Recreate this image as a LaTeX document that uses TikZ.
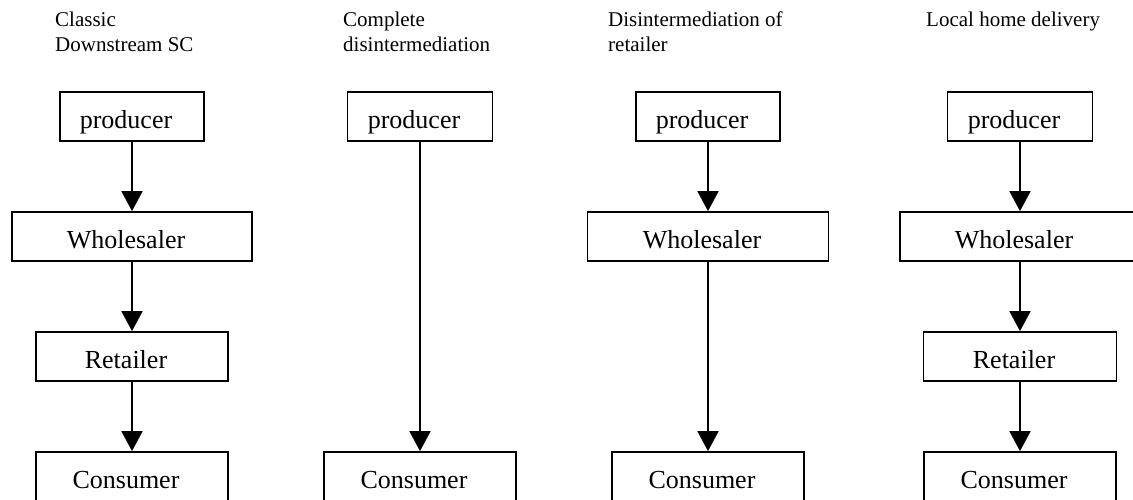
\documentclass[tikz,border=0pt]{standalone}
\usepackage{fontspec}
\setmainfont{Liberation Serif}
\usetikzlibrary{arrows.meta}
\begin{document}
\begin{tikzpicture}[x=1pt,y=-1pt,
  box/.style={draw, line width=1.8pt, inner sep=0pt, minimum height=49pt,
    font=\fontsize{26}{30}\selectfont, text height=23pt, text depth=0pt,
    execute at end node={\kern12pt}},
  flow/.style={line width=1.8pt, -{Triangle[width=21pt,length=20pt]}},
  title/.style={anchor=base west, align=left, inner sep=0pt,
    font=\fontsize{21}{25}\selectfont}]
\useasboundingbox (0,0) rectangle (1133,499);
\clip (0,0) rectangle (1133,499);

% column titles (base anchor sits on the last line)
\node[title] (t1) at (55,51)  {Classic\\Downstream SC};
\node[title] (t2) at (343,51) {Complete\\disintermediation};
\node[title] (t3) at (608,51) {Disintermediation of\\retailer};
\node[title] (t4) at (926,26) {Local home delivery};

% classic downstream supply chain
\node[box, minimum width=144pt] (p1) at (132,116.5) {producer};
\node[box, minimum width=240pt] (w1) at (132,236.5) {Wholesaler};
\node[box, minimum width=192pt] (r1) at (132,356.5) {Retailer};
\node[box, minimum width=192pt] (c1) at (132,476.5) {Consumer};
\draw[flow] (p1) -- (w1);
\draw[flow] (w1) -- (r1);
\draw[flow] (r1) -- (c1);

% complete disintermediation
\node[box, minimum width=145pt] (p2) at (420,116.5) {producer};
\node[box, minimum width=192pt] (c2) at (420,476.5) {Consumer};
\draw[flow] (p2) -- (c2);

% disintermediation of retailer
\node[box, minimum width=144pt] (p3) at (708,116.5) {producer};
\node[box, minimum width=241pt] (w3) at (708,236.5) {Wholesaler};
\node[box, minimum width=192pt] (c3) at (708,476.5) {Consumer};
\draw[flow] (p3) -- (w3);
\draw[flow] (w3) -- (c3);

% local home delivery
\node[box, minimum width=145pt] (p4) at (1020,116.5) {producer};
\node[box, minimum width=240pt] (w4) at (1020,236.5) {Wholesaler};
\node[box, minimum width=193pt] (r4) at (1020,356.5) {Retailer};
\node[box, minimum width=192pt] (c4) at (1020,476.5) {Consumer};
\draw[flow] (p4) -- (w4);
\draw[flow] (w4) -- (r4);
\draw[flow] (r4) -- (c4);
\end{tikzpicture}
\end{document}
